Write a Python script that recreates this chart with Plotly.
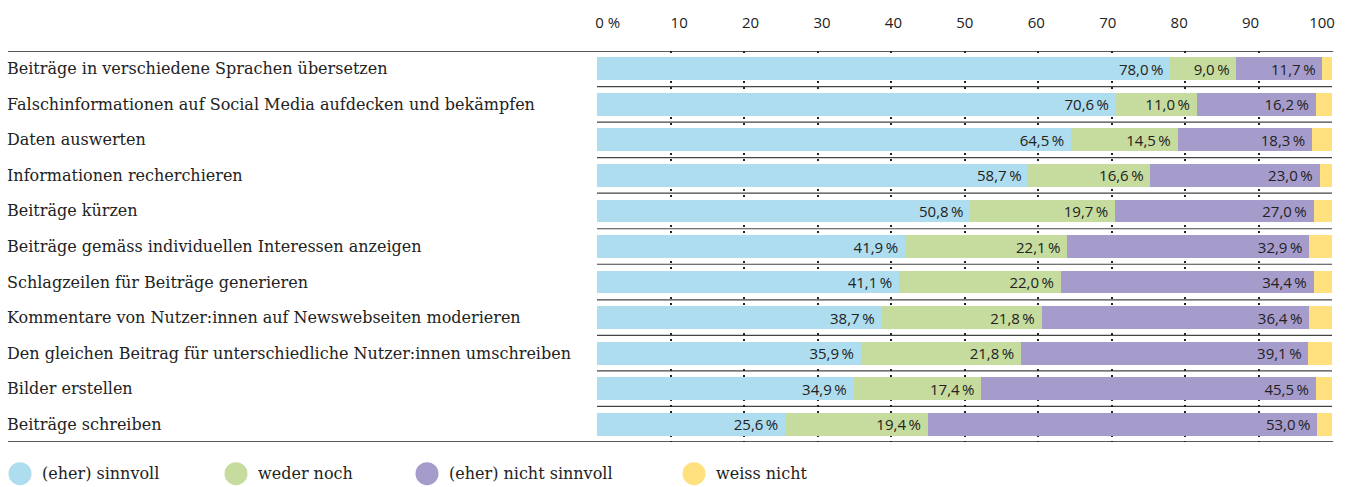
import plotly.graph_objects as go

# --- data -------------------------------------------------------------
categories = [
    "Beiträge in verschiedene Sprachen übersetzen",
    "Falschinformationen auf Social Media aufdecken und bekämpfen",
    "Daten auswerten",
    "Informationen recherchieren",
    "Beiträge kürzen",
    "Beiträge gemäss individuellen Interessen anzeigen",
    "Schlagzeilen für Beiträge generieren",
    "Kommentare von Nutzer:innen auf Newswebseiten moderieren",
    "Den gleichen Beitrag für unterschiedliche Nutzer:innen umschreiben",
    "Bilder erstellen",
    "Beiträge schreiben",
]
sinnvoll = [78.0, 70.6, 64.5, 58.7, 50.8, 41.9, 41.1, 38.7, 35.9, 34.9, 25.6]
weder_noch = [9.0, 11.0, 14.5, 16.6, 19.7, 22.1, 22.0, 21.8, 21.8, 17.4, 19.4]
nicht_sinnvoll = [11.7, 16.2, 18.3, 23.0, 27.0, 32.9, 34.4, 36.4, 39.1, 45.5, 53.0]
weiss_nicht = [1.3, 2.2, 2.7, 1.7, 2.5, 3.1, 2.5, 3.1, 3.2, 2.2, 2.0]

tick_vals = [0, 10, 20, 30, 40, 50, 60, 70, 80, 90, 100]
tick_text = ["0 %", "10", "20", "30", "40", "50", "60", "70", "80", "90", "100"]

series_names = ["(eher) sinnvoll", "weder noch", "(eher) nicht sinnvoll", "weiss nicht"]
series_colors = ["#AEDDEF", "#C6DB9E", "#A69CCC", "#FFE07E"]

SERIF = "DejaVu Serif"
SANS = "Open Sans"
INK = "#222222"

# pixel geometry of the plot area
W, H = 1348, 487
L, R, T, B = 597, 16, 47, 45
plot_w = W - L - R
plot_h = H - T - B


def px_to_paper_x(px):
    return (px - L) / plot_w


def px_to_paper_y(py):
    return (H - B - py) / plot_h


def fmt(v):
    return f"{v:.1f}".replace(".", ",") + "\u2009%\u00a0"


fig = go.Figure()

all_values = [sinnvoll, weder_noch, nicht_sinnvoll, weiss_nicht]
for idx, (name, vals, col) in enumerate(zip(series_names, all_values, series_colors)):
    show_text = idx < 3
    fig.add_trace(go.Bar(
        y=categories,
        x=vals,
        name=name,
        orientation="h",
        marker=dict(color=col, line=dict(width=0)),
        width=0.64,
        text=[fmt(v) for v in vals] if show_text else None,
        textposition="inside" if show_text else "none",
        insidetextanchor="end",
        textfont=dict(family=SANS, size=15, color=INK),
        showlegend=False,
    ))

# the scale labels in the original sit on a slightly tighter scale than the grid
fig.add_trace(go.Scatter(
    x=tick_vals, y=[categories[0]] * len(tick_vals), xaxis="x2",
    mode="markers", marker=dict(opacity=0), hoverinfo="skip", showlegend=False,
))

# row separators inside the plot area
shapes = []
for i in range(len(categories) - 1):
    shapes.append(dict(type="line", xref="paper", yref="y",
                       x0=0, x1=1, y0=i + 0.5, y1=i + 0.5,
                       line=dict(color="#444444", width=1.2), layer="below"))
# top and bottom rules spanning the labels as well
for yv in [-0.5, len(categories) - 0.5]:
    shapes.append(dict(type="line", xref="paper", yref="y",
                       x0=px_to_paper_x(8), x1=1.0015, y0=yv, y1=yv,
                       line=dict(color="#222222", width=1.5), layer="above"))

annotations = []
for cat in categories:
    annotations.append(dict(xref="paper", yref="y", x=px_to_paper_x(8), y=cat,
                            text=cat, showarrow=False, xanchor="left", yanchor="middle",
                            xshift=-3,
                            font=dict(family=SERIF, size=16, color=INK)))

# legend (circles + labels) below the plot
legend_circle_px = [20, 236, 427, 694]
legend_y = px_to_paper_y(474)
for cx, name, col in zip(legend_circle_px, series_names, series_colors):
    shapes.append(dict(type="circle", xref="paper", yref="paper", xsizemode="pixel",
                       ysizemode="pixel", xanchor=px_to_paper_x(cx), yanchor=legend_y,
                       x0=-11.5, x1=11.5, y0=-11.5, y1=11.5,
                       fillcolor=col, line=dict(width=0)))
    annotations.append(dict(xref="paper", yref="paper", x=px_to_paper_x(cx + 20),
                            y=legend_y, text=name, showarrow=False,
                            xanchor="left", yanchor="middle",
                            font=dict(family=SERIF, size=16, color=INK)))

fig.update_layout(
    width=W, height=H,
    barmode="stack",
    bargap=0.36,
    margin=dict(l=L, r=R, t=T, b=B),
    paper_bgcolor="white",
    plot_bgcolor="white",
    shapes=shapes,
    annotations=annotations,
    uniformtext=dict(minsize=15, mode="show"),
    xaxis=dict(
        range=[0, 100],
        tickvals=tick_vals,
        showticklabels=False,
        ticks="",
        showgrid=True,
        gridcolor="#222222",
        gridwidth=1.5,
        griddash="1.5px,4.5px",
        zeroline=False,
        showline=False,
        fixedrange=True,
    ),
    xaxis2=dict(
        overlaying="x",
        side="top",
        range=[-1.5, 101.4],
        tickvals=tick_vals,
        ticktext=tick_text,
        tickfont=dict(family=SANS, size=15, color=INK),
        ticks="",
        ticklabelstandoff=19,
        showgrid=False,
        zeroline=False,
        showline=False,
        fixedrange=True,
    ),
    yaxis=dict(
        range=[len(categories) - 0.5, -0.5],
        showticklabels=False,
        showgrid=False,
        zeroline=False,
        showline=False,
        fixedrange=True,
    ),
)

fig.write_html(
    "out.html",
    config={"displayModeBar": False},
    post_script="document.body.style.margin='0';document.body.style.overflow='hidden';",
)
